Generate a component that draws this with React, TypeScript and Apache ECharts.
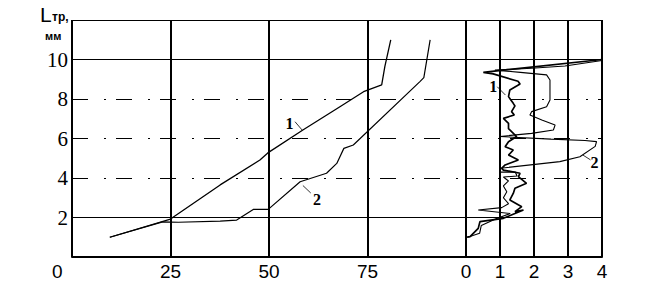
import React, { useEffect, useRef } from "react";
import * as echarts from "echarts";

// Left panel: L_тр (mm) versus x (0..100)
const leftCurve1: [number, number][] = [
  [9.6, 1.0], [25, 1.92], [37.6, 3.65], [47.7, 4.91], [49.7, 5.27], [58.6, 6.43],
  [68, 7.61], [74, 8.37], [78.6, 8.71], [79.4, 9.64], [80.9, 10.99],
];
const leftCurve2: [number, number][] = [
  [9.6, 1.0], [23, 1.78], [27, 1.76], [37.6, 1.82], [41.8, 1.87], [46, 2.41],
  [49.8, 2.41], [57.9, 3.81], [64.6, 4.24], [67.2, 4.74], [69.0, 5.5], [71.4, 5.67],
  [88.3, 8.88], [89.3, 9.08], [90.9, 10.99],
];
// Right panel: 0..4
const rightCurve1: [number, number][] = [
  [4.0, 10.0], [0.51, 9.35], [0.8, 9.27], [1.53, 8.9], [1.59, 8.76], [1.29, 8.46],
  [1.25, 8.12], [1.39, 7.78], [1.44, 7.65], [1.34, 7.36], [1.42, 7.19], [1.1, 7.02],
  [1.25, 6.77], [1.25, 6.5], [1.49, 6.1], [1.25, 5.84], [1.15, 5.58], [1.39, 5.42],
  [1.25, 5.16], [1.54, 4.91], [1.15, 4.66], [1.05, 4.49], [1.1, 4.4], [1.59, 4.24],
  [1.54, 4.07], [1.78, 3.73], [1.44, 3.48], [1.39, 3.22], [1.29, 2.89], [1.64, 2.55],
  [1.44, 2.3], [1.69, 2.38], [1.1, 1.96], [0.41, 1.79], [0.36, 1.45], [0.12, 1.03],
  [0, 1.0],
];
const rightCurve2: [number, number][] = [
  [4.0, 9.95], [2.91, 9.67], [1.93, 9.56], [0.85, 9.46], [1.6, 9.35], [2.37, 9.22],
  [2.47, 8.96], [2.47, 7.95], [2.37, 7.61], [1.93, 7.36], [1.88, 7.19], [2.23, 6.94],
  [2.62, 6.68], [2.57, 6.43], [1.93, 6.26], [1.15, 6.13], [1.0, 6.1], [2.5, 5.97],
  [3.5, 5.9], [3.84, 5.84], [3.8, 5.6], [3.35, 5.08], [2.76, 4.83], [1.0, 4.49],
  [1.0, 4.3], [1.45, 4.3], [1.5, 4.1], [1.1, 4.05], [1.25, 3.85], [1.1, 3.6],
  [1.2, 3.3], [1.1, 3.0], [1.25, 2.7], [1.05, 2.5], [0.36, 2.38], [1.3, 2.2],
  [0.9, 1.95], [0.45, 1.6], [0.4, 1.2], [0.05, 1.0],
];

const leftXTicks = [25, 50, 75];
const rightXTicks = [0, 1, 2, 3, 4];
const yTickLabels = [2, 4, 6, 8, 10];
const solidLevels = [2, 10, 12];
const dashedLevels = [4, 6, 8];

const leftLabel1 = { text: "1", at: [55.2, 6.78], from: [56.6, 6.85], to: [58.4, 6.43] };
const leftLabel2 = { text: "2", at: [62.2, 2.9], from: [58.6, 3.62], to: [60.6, 3.24] };
const rightLabel1 = { text: "1", at: [0.8, 8.62], from: [0.92, 8.62], to: [1.16, 8.2] };
const rightLabel2 = { text: "2", at: [3.78, 4.76], from: [3.44, 5.16], to: [3.66, 4.92] };

const DASH = [16, 16, 2, 10];

function levelLines() {
  return [
    ...solidLevels.map((v) => ({ yAxis: v, lineStyle: { type: "solid", width: 1, color: "#000" } })),
    ...dashedLevels.map((v) => ({ yAxis: v, lineStyle: { type: DASH, width: 1, color: "#000" } })),
  ];
}

function leader(l: { from: number[]; to: number[] }) {
  return [
    { coord: l.from, lineStyle: { type: "solid", width: 0.8, color: "#000" } },
    { coord: l.to },
  ];
}

function labelPoint(l: { text: string; at: number[] }) {
  return {
    coord: l.at,
    symbol: "rect",
    symbolSize: 1,
    itemStyle: { color: "rgba(0,0,0,0)" },
    label: {
      show: true,
      position: "inside",
      formatter: l.text,
      color: "#000",
      fontFamily: "Liberation Serif",
      fontWeight: "bold",
      fontSize: 16,
    },
  };
}

export default function App() {
  const ref = useRef<HTMLDivElement>(null);
  useEffect(() => {
    const chart = echarts.init(ref.current!, null, { renderer: "svg" });
    const axisLabelY = {
      color: "#000",
      fontFamily: "Liberation Serif",
      fontSize: 21,
      margin: 4,
      formatter: (v: number) => (yTickLabels.includes(v) ? String(v) : ""),
    };
    const xLabelBase = {
      color: "#000",
      fontFamily: "Liberation Sans",
      fontSize: 19,
      margin: 5,
    };
    const option: any = {
      animation: false,
      backgroundColor: "#fff",
      grid: [
        { left: 72, top: 20, width: 394, height: 237 },
        { left: 466, top: 20, width: 136, height: 237 },
      ],
      xAxis: [
        {
          type: "value", gridIndex: 0, min: 0, max: 100, interval: 25,
          axisLine: { show: true, lineStyle: { color: "#000", width: 2 } },
          axisTick: { show: false },
          splitLine: { show: true, lineStyle: { color: "#000", width: 2 } },
          axisLabel: { ...xLabelBase, formatter: (v: number) => (leftXTicks.includes(v) ? String(v) : "") },
        },
        {
          type: "value", gridIndex: 1, min: 0, max: 4, interval: 1,
          axisLine: { show: true, lineStyle: { color: "#000", width: 2 } },
          axisTick: { show: false },
          splitLine: { show: true, lineStyle: { color: "#000", width: 2 } },
          axisLabel: { ...xLabelBase, formatter: (v: number) => (rightXTicks.includes(v) ? String(v) : "") },
        },
      ],
      yAxis: [
        {
          type: "value", gridIndex: 0, min: 0, max: 12, interval: 2,
          axisLine: { show: false },
          axisTick: { show: false },
          splitLine: { show: false },
          axisLabel: axisLabelY,
        },
        {
          type: "value", gridIndex: 1, min: 0, max: 12, interval: 2,
          axisLine: { show: false },
          axisTick: { show: false },
          splitLine: { show: false },
          axisLabel: { show: false },
        },
      ],
      series: [
        {
          type: "line", xAxisIndex: 0, yAxisIndex: 0, data: leftCurve1,
          showSymbol: false, symbol: "none", lineStyle: { color: "#000", width: 1.3 },
          markLine: {
            silent: true, symbol: ["none", "none"], label: { show: false },
            data: [...levelLines(), leader(leftLabel1), leader(leftLabel2)],
          },
          markPoint: { silent: true, data: [labelPoint(leftLabel1), labelPoint(leftLabel2)] },
        },
        {
          type: "line", xAxisIndex: 0, yAxisIndex: 0, data: leftCurve2,
          showSymbol: false, symbol: "none", lineStyle: { color: "#000", width: 1.2 },
        },
        {
          type: "line", xAxisIndex: 1, yAxisIndex: 1, data: rightCurve1,
          showSymbol: false, symbol: "none", lineStyle: { color: "#000", width: 1.7 },
          markLine: {
            silent: true, symbol: ["none", "none"], label: { show: false },
            data: [...levelLines(), leader(rightLabel1), leader(rightLabel2)],
          },
          markPoint: { silent: true, data: [labelPoint(rightLabel1), labelPoint(rightLabel2)] },
        },
        {
          type: "line", xAxisIndex: 1, yAxisIndex: 1, data: rightCurve2,
          showSymbol: false, symbol: "none", lineStyle: { color: "#000", width: 1.1 },
        },
      ],
      graphic: [
        { type: "text", left: 40, top: 4, style: { text: "L", fontFamily: "Liberation Sans", fontSize: 21, fill: "#000" } },
        { type: "text", left: 52, top: 11, style: { text: "тр,", fontFamily: "Liberation Sans", fontWeight: "bold", fontSize: 12, fill: "#000" } },
        { type: "text", left: 45, top: 30, style: { text: "мм", fontFamily: "Liberation Sans", fontWeight: "bold", fontSize: 11, fill: "#000" } },
        { type: "text", left: 52, top: 262, style: { text: "0", fontFamily: "Liberation Sans", fontSize: 19, fill: "#000" } },
      ],
    };
    chart.setOption(option);
    return () => chart.dispose();
  }, []);
  return (
    <div
      ref={ref}
      style={{ position: "absolute", left: 0, top: 0, width: 656, height: 285 }}
    />
  );
}
